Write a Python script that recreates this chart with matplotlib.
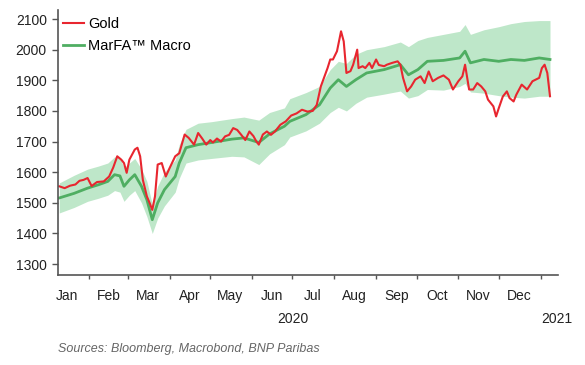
import numpy as np
import pandas as pd
import matplotlib
matplotlib.use("Agg")
import matplotlib.pyplot as plt
import matplotlib.dates as mdates

plt.rcParams['font.family'] = ['Liberation Sans', 'DejaVu Sans']

# gold price
gold_dates = [
    "2020-01-10", "2020-01-14", "2020-01-18", "2020-01-22", "2020-01-25", "2020-01-28",
    "2020-01-31", "2020-02-03", "2020-02-07", "2020-02-12", "2020-02-16", "2020-02-19",
    "2020-02-22", "2020-02-25", "2020-02-27", "2020-02-29", "2020-03-02", "2020-03-06",
    "2020-03-08", "2020-03-10", "2020-03-12", "2020-03-15", "2020-03-17", "2020-03-19",
    "2020-03-21", "2020-03-23", "2020-03-26", "2020-03-29", "2020-04-01", "2020-04-05",
    "2020-04-08", "2020-04-12", "2020-04-15", "2020-04-19", "2020-04-22", "2020-04-25",
    "2020-04-28", "2020-05-01", "2020-05-03", "2020-05-06", "2020-05-09", "2020-05-12",
    "2020-05-15", "2020-05-18", "2020-05-21", "2020-05-24", "2020-05-27", "2020-05-30",
    "2020-06-02", "2020-06-04", "2020-06-06", "2020-06-09", "2020-06-12", "2020-06-15",
    "2020-06-18", "2020-06-22", "2020-06-26", "2020-06-30", "2020-07-04", "2020-07-08",
    "2020-07-12", "2020-07-16", "2020-07-19", "2020-07-22", "2020-07-27", "2020-07-29",
    "2020-07-31", "2020-08-03", "2020-08-06", "2020-08-08", "2020-08-10", "2020-08-13",
    "2020-08-15", "2020-08-18", "2020-08-19", "2020-08-22", "2020-08-24", "2020-08-27",
    "2020-08-29", "2020-09-01", "2020-09-03", "2020-09-07", "2020-09-09", "2020-09-13",
    "2020-09-17", "2020-09-19", "2020-09-21", "2020-09-24", "2020-09-27", "2020-09-30",
    "2020-10-04", "2020-10-07", "2020-10-10", "2020-10-13", "2020-10-17", "2020-10-21",
    "2020-10-25", "2020-10-28", "2020-11-01", "2020-11-04", "2020-11-06", "2020-11-09",
    "2020-11-12", "2020-11-15", "2020-11-18", "2020-11-21", "2020-11-23", "2020-11-27",
    "2020-11-29", "2020-12-01", "2020-12-04", "2020-12-07", "2020-12-09", "2020-12-12",
    "2020-12-14", "2020-12-18", "2020-12-22", "2020-12-26", "2020-12-31", "2021-01-02",
    "2021-01-04", "2021-01-06", "2021-01-08",
]
gold = [
    1554, 1548, 1556, 1560, 1572, 1575,
    1581, 1555, 1568, 1570, 1586, 1615,
    1652, 1641, 1630, 1598, 1641, 1674,
    1680, 1652, 1575, 1521, 1500, 1477,
    1521, 1625, 1630, 1586, 1615, 1652,
    1662, 1723, 1712, 1690, 1728, 1710,
    1690, 1705, 1697, 1710, 1700, 1717,
    1722, 1744, 1738, 1722, 1705, 1733,
    1718, 1702, 1690, 1723, 1733, 1722,
    1733, 1755, 1766, 1785, 1792, 1804,
    1798, 1800, 1820, 1880, 1940, 1968,
    1968, 1995, 2060, 2027, 1924, 1930,
    1951, 2000, 1940, 1946, 1940, 1957,
    1940, 1968, 1950, 1946, 1951, 1957,
    1962, 1951, 1908, 1864, 1880, 1902,
    1913, 1891, 1929, 1897, 1908, 1916,
    1902, 1870, 1897, 1913, 1951, 1870,
    1870, 1891, 1880, 1864, 1837, 1815,
    1782, 1809, 1847, 1864, 1842, 1831,
    1853, 1886, 1870, 1897, 1908, 1940,
    1951, 1924, 1848,
]

# MarFA macro model: central estimate and band
model_dates = [
    "2020-01-10", "2020-01-21", "2020-01-31", "2020-02-08", "2020-02-15", "2020-02-20",
    "2020-02-24", "2020-02-27", "2020-03-02", "2020-03-06", "2020-03-11", "2020-03-15",
    "2020-03-19", "2020-03-23", "2020-03-28", "2020-04-05", "2020-04-08", "2020-04-13",
    "2020-04-22", "2020-05-02", "2020-05-17", "2020-05-26", "2020-06-06", "2020-06-14",
    "2020-06-25", "2020-06-29", "2020-07-11", "2020-07-21", "2020-07-29", "2020-08-04",
    "2020-08-10", "2020-08-17", "2020-08-25", "2020-09-07", "2020-09-19", "2020-09-25",
    "2020-10-02", "2020-10-09", "2020-10-21", "2020-11-02", "2020-11-06", "2020-11-10",
    "2020-11-20", "2020-12-01", "2020-12-10", "2020-12-20", "2020-12-31", "2021-01-08",
]
marfa = [
    1516, 1531, 1548, 1559, 1570, 1592,
    1588, 1554, 1575, 1592, 1554, 1510,
    1445, 1500, 1543, 1586, 1630, 1680,
    1690, 1697, 1708, 1712, 1697, 1725,
    1750, 1766, 1788, 1820, 1875, 1902,
    1880, 1902, 1924, 1935, 1951, 1918,
    1935, 1962, 1965, 1973, 1995, 1957,
    1968, 1962, 1968, 1965, 1973, 1968,
]
band_hi = [
    1565, 1590, 1610, 1620, 1630, 1650,
    1648, 1615, 1630, 1645, 1610, 1570,
    1495, 1555, 1600, 1640, 1690, 1740,
    1760, 1765, 1775, 1780, 1770, 1795,
    1810, 1840, 1860, 1880, 1935, 1962,
    1955, 1985, 2000, 2010, 2025, 2010,
    2030, 2040, 2050, 2060, 2082, 2050,
    2065, 2075, 2085, 2092, 2095, 2095,
]
band_lo = [
    1467, 1485, 1505, 1515, 1525, 1540,
    1535, 1505, 1525, 1540, 1500, 1455,
    1400, 1450, 1490, 1535, 1580, 1630,
    1640, 1645, 1652, 1650, 1625, 1660,
    1690, 1715, 1735, 1760, 1795, 1812,
    1800, 1825, 1845, 1855, 1865, 1842,
    1850, 1870, 1868, 1880, 1890, 1862,
    1858, 1850, 1845, 1842, 1848, 1848,
]

month_labels = ["Jan", "Feb", "Mar", "Apr", "May", "Jun",
                "Jul", "Aug", "Sep", "Oct", "Nov", "Dec"]

gd = pd.to_datetime(gold_dates)
md = pd.to_datetime(model_dates)

fig = plt.figure(figsize=(5.85, 3.65), dpi=100)
ax = fig.add_axes([0.099, 0.247, 0.855, 0.726])

ax.fill_between(md, band_lo, band_hi, color="#b3e3c0", alpha=0.85, lw=0)
ax.plot(md, marfa, color="#4fae62", lw=2.0, label="MarFA\u2122 Macro")
ax.plot(gd, gold, color="#e8262f", lw=1.5, label="Gold")

ax.set_xlim(pd.Timestamp("2020-01-09"), pd.Timestamp("2021-01-14"))
ax.set_ylim(1265, 2130)
ax.set_yticks(range(1300, 2101, 100))

ax.xaxis.set_major_locator(mdates.MonthLocator(bymonth=range(1, 13), bymonthday=1))
ax.xaxis.set_major_formatter(plt.NullFormatter())
mids = [pd.Timestamp(2020, m, 16) for m in range(1, 13)]
ax.set_xticks(mids, minor=True)
ax.set_xticklabels(month_labels, minor=True)
ax.tick_params(axis="x", which="minor", length=0, pad=10, labelsize=10, colors="#222")
ax.tick_params(axis="x", which="major", length=3, width=1, color="#555")
ax.tick_params(axis="y", length=4, width=1, color="#555", labelsize=10, labelcolor="#222", pad=4)
for t in ax.xaxis.get_major_ticks():
    if t.get_loc() == mdates.date2num(pd.Timestamp("2021-01-01")):
        t.tick1line.set_markersize(8)

for s in ["top", "right"]:
    ax.spines[s].set_visible(False)
for s in ["left", "bottom"]:
    ax.spines[s].set_color("#555")
    ax.spines[s].set_linewidth(1.2)

ax.text(pd.Timestamp("2020-07-01"), -0.165, "2020", transform=ax.get_xaxis_transform(),
        ha="center", va="center", fontsize=10, color="#222")
ax.text(pd.Timestamp("2021-01-13"), -0.165, "2021", transform=ax.get_xaxis_transform(),
        ha="center", va="center", fontsize=10, color="#222")

h, l = ax.get_legend_handles_labels()
ax.legend(h[::-1], l[::-1], loc="upper left", bbox_to_anchor=(-0.01, 1.01), frameon=False,
          fontsize=10.5, handlelength=1.4, handletextpad=0.3, labelspacing=0.55,
          borderaxespad=0.3)

fig.text(0.099, 0.035, "Sources: Bloomberg, Macrobond, BNP Paribas", fontsize=9,
         style="italic", color="#666")

fig.savefig("out.png", dpi=100)
